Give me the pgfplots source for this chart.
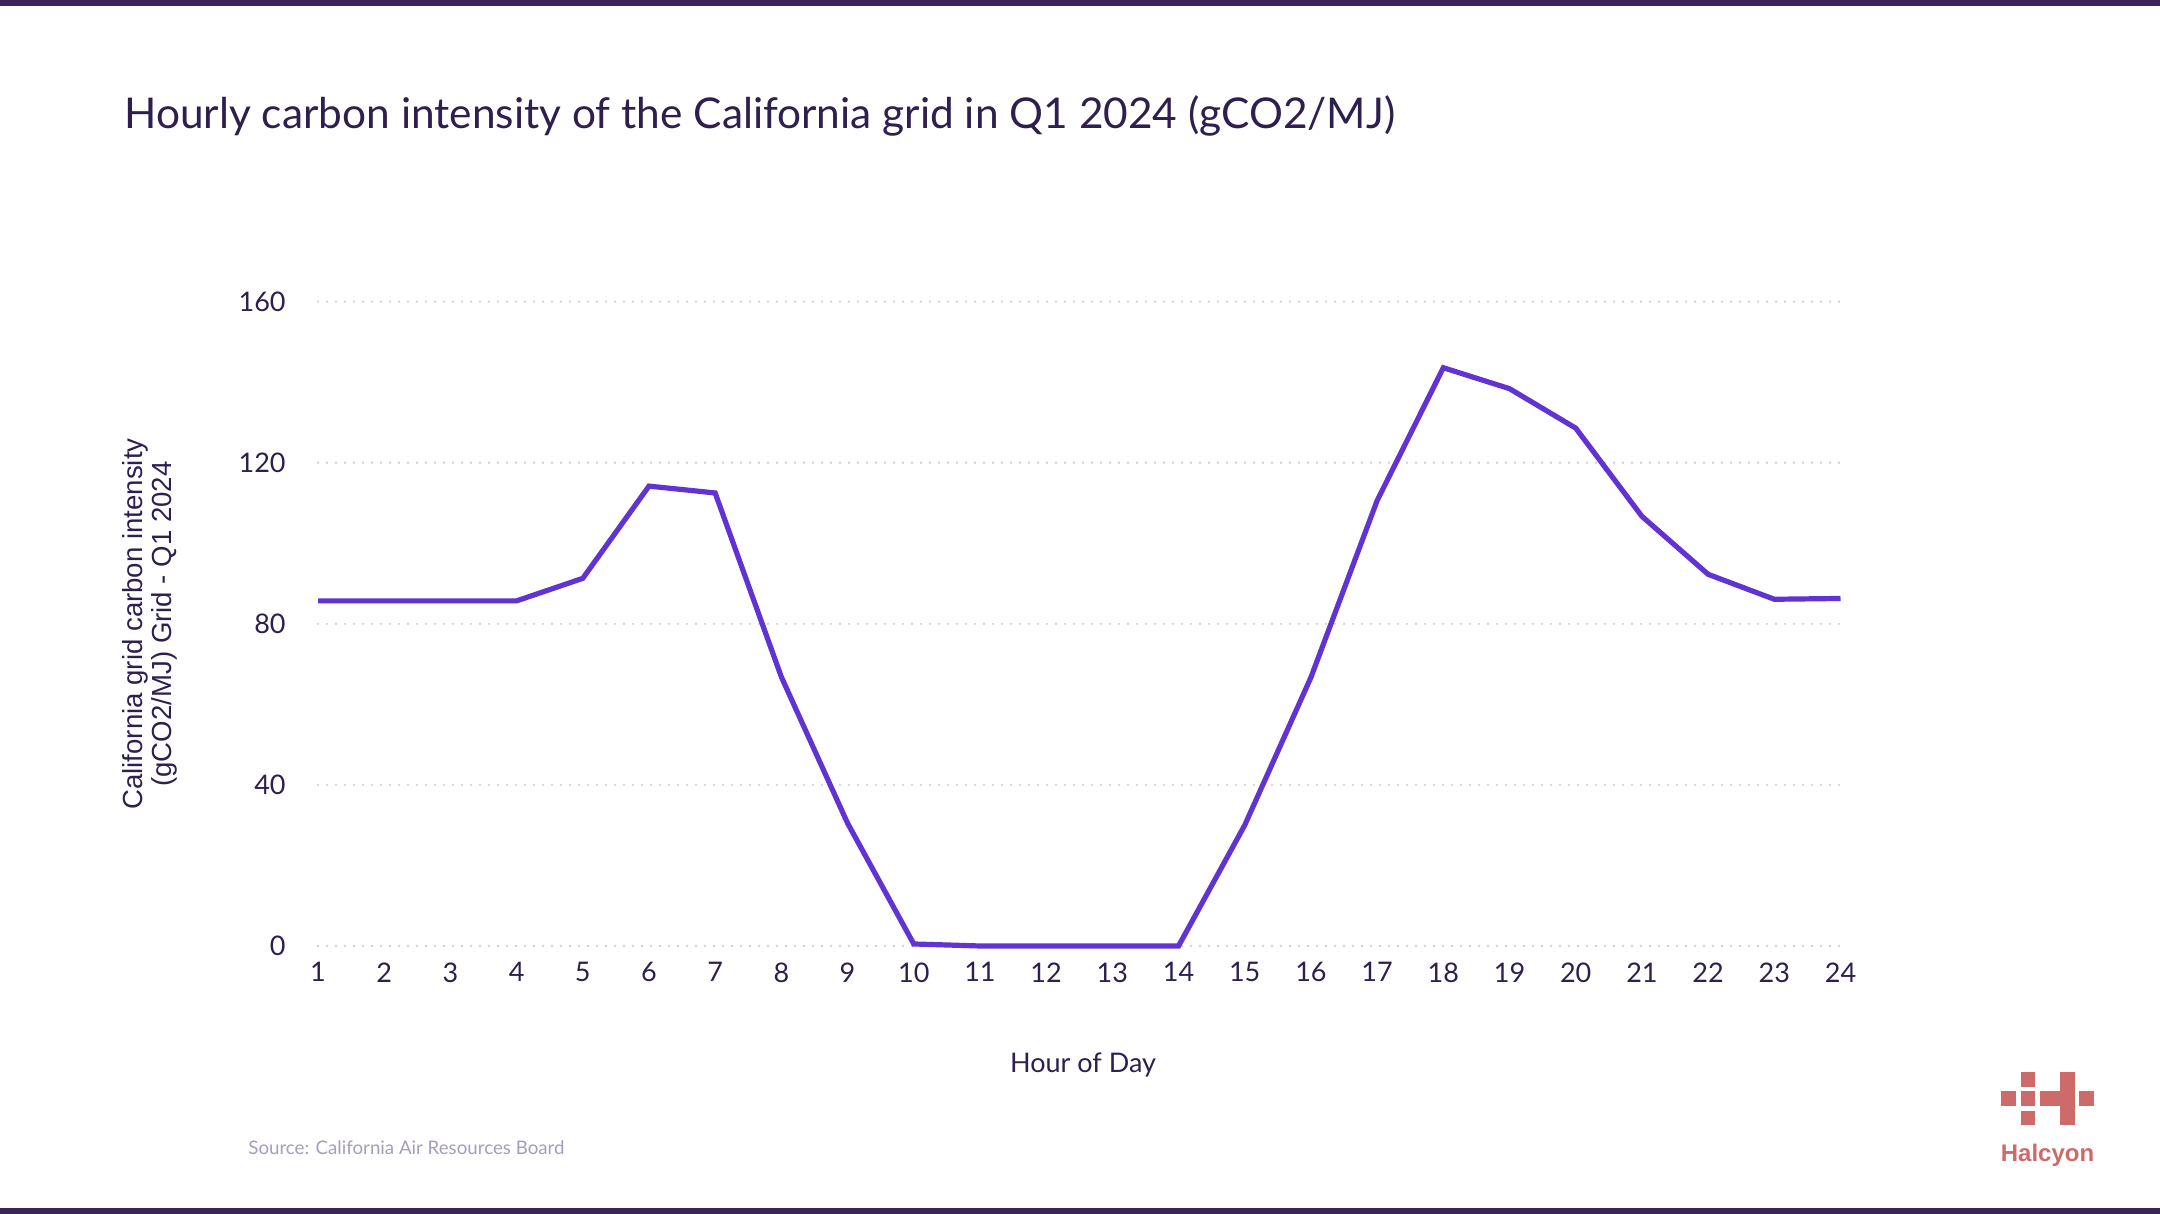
\documentclass[border=0pt]{standalone}
\usepackage{pgfplots}
\pgfplotsset{compat=1.18}
\usepackage{fontspec}
\setmainfont{Lato}
\newfontfamily\arialfont{Liberation Sans}
\definecolor{txt}{HTML}{2E1F4F}
\definecolor{barc}{HTML}{3B2459}
\definecolor{linec}{HTML}{6233D3}
\definecolor{gridc}{HTML}{D2D2D2}
\definecolor{srcc}{HTML}{A69CBC}
\definecolor{logoc}{HTML}{CD6A6A}
\begin{document}
\begin{tikzpicture}
\path[use as bounding box] (0,0) rectangle (1080pt,607pt);
\begin{axis}[
  at={(159pt,134pt)}, anchor=south west,
  scale only axis, width=761.25pt, height=322.15pt,
  xmin=1, xmax=24, ymin=0, ymax=160,
  clip=false,
  axis line style={draw=none},
  major tick length=0pt,
  tick style={draw=none},
  xtick={1,...,24}, ytick={0,40,...,160},
  ymajorgrids,
  grid style={gridc, line width=1.3pt, line cap=round, dash pattern=on 0pt off 4.5pt},
  /pgf/number format/assume math mode=true,
  ticklabel style={font=\fontsize{13.5}{16}\selectfont, text=txt},
  xticklabel style={anchor=north, inner sep=0pt, yshift=-8.1pt},
  yticklabel style={anchor=east, inner sep=0pt, xshift=-16pt},
]
\addplot[linec, line width=2.6pt] coordinates {
(1,85.7)(2,85.7)(3,85.7)(4,85.7)(5,91.3)(6,114.2)(7,112.5)(8,66.8)
(9,30.5)(10,0.5)(11,0)(12,0)(13,0)(14,0)(15,30)(16,66.7)(17,110.6)
(18,143.6)(19,138.4)(20,128.6)(21,106.7)(22,92.3)(23,86.1)(24,86.3)};
\end{axis}
\begin{scope}[yshift=607pt, x=0.5pt, y=-0.5pt]
  % frame bars
  \fill[barc] (0,0) rectangle (2160,5.7);
  \fill[barc] (0,1208.3) rectangle (2160,1214);
  % title
  \node[anchor=base west, inner sep=0pt, text=txt] at (124,128.3)
    {\fontsize{21.2}{25}\selectfont Hourly carbon intensity of the California grid in Q1 2024 (gCO2/MJ)};
  % y label
  \node[rotate=90, align=center, text=txt, inner sep=0pt, font=\arialfont\fontsize{13.8}{14.6}\selectfont] at (149.5,624)
    {California grid carbon intensity\\(gCO2/MJ) Grid - Q1 2024};
  % x label
  \node[anchor=base, inner sep=0pt, text=txt, font=\fontsize{13.5}{16}\selectfont] at (1083,1072.3) {Hour of Day};
  % source
  \node[anchor=west, inner sep=0pt, text=srcc, font=\fontsize{9.35}{11}\selectfont] at (248,1147.5) {Source: California Air Resources Board};
  % logo
  \fill[logoc] (2021,1072) rectangle (2035,1086.7);
  \fill[logoc] (2001,1091) rectangle (2015.7,1105.7);
  \fill[logoc] (2021,1091) rectangle (2035,1105.7);
  \fill[logoc] (2040,1091) rectangle (2075,1105.7);
  \fill[logoc] (2079.3,1091) rectangle (2094,1105.7);
  \fill[logoc] (2060,1071.7) rectangle (2075,1125);
  \fill[logoc] (2021,1111) rectangle (2035,1125);
  \node[anchor=base, inner sep=0pt, text=logoc, font=\arialfont\bfseries\fontsize{12}{14}\selectfont] at (2047.5,1161.7) {Halcyon};
\end{scope}
\end{tikzpicture}
\end{document}
